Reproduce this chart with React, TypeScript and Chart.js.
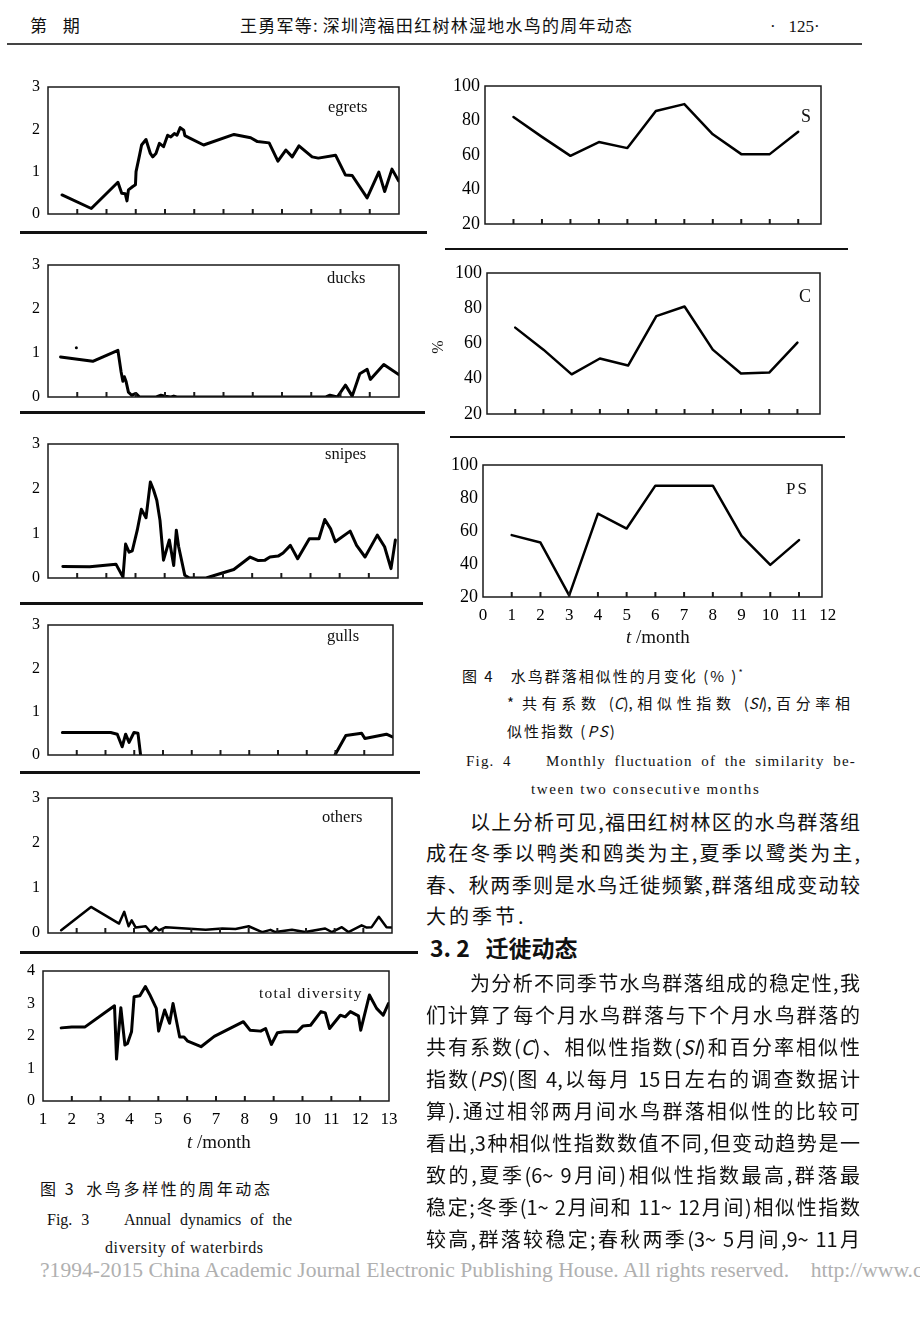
import React, { useEffect, useRef } from "react";
import { Chart, registerables } from "chart.js";
Chart.register(...registerables);

// ---------- data ----------
const egretsMonths = [1.48, 2.48, 3.39, 3.52, 3.64, 3.7, 3.75, 3.9, 3.99, 4.01, 4.13, 4.2, 4.35, 4.5, 4.58, 4.69, 4.81, 4.95, 5.09, 5.2, 5.32, 5.41, 5.52, 5.64, 5.68, 5.83, 6.32, 7.36, 7.93, 8.16, 8.56, 8.86, 9.13, 9.35, 9.58, 10.03, 10.24, 10.83, 11.17, 11.4, 11.91, 12.31, 12.51, 12.76, 12.99];
const egretsValues = [0.45, 0.13, 0.75, 0.49, 0.48, 0.31, 0.57, 0.65, 0.69, 1.0, 1.39, 1.63, 1.76, 1.43, 1.35, 1.43, 1.67, 1.59, 1.86, 1.82, 1.9, 1.86, 2.04, 1.98, 1.85, 1.8, 1.63, 1.88, 1.8, 1.71, 1.68, 1.25, 1.51, 1.35, 1.61, 1.35, 1.32, 1.39, 0.92, 0.91, 0.38, 0.99, 0.53, 1.06, 0.78];

const ducksMonths = [1.43, 2.53, 3.39, 3.5, 3.56, 3.61, 3.67, 3.75, 3.86, 4.01, 4.13, 4.7, 4.86, 5.0, 5.2, 5.3, 5.4, 10.5, 10.64, 10.89, 11.17, 11.4, 11.66, 11.91, 12.02, 12.48, 12.99];
const ducksValues = [0.91, 0.81, 1.06, 0.57, 0.36, 0.46, 0.35, 0.11, 0.04, 0.08, 0, 0, 0.04, 0.02, 0, 0.02, 0, 0, 0.04, 0, 0.27, 0.02, 0.53, 0.63, 0.4, 0.74, 0.51];
const ducksDotMonths = [1.97];
const ducksDotValues = [1.12];

const snipesMonths = [1.51, 2.43, 3.33, 3.57, 3.66, 3.78, 3.89, 4.06, 4.2, 4.36, 4.51, 4.62, 4.73, 4.84, 4.96, 5.16, 5.31, 5.4, 5.48, 5.69, 5.85, 6.42, 6.92, 7.37, 7.93, 8.21, 8.44, 8.61, 8.89, 9.06, 9.31, 9.56, 9.96, 10.29, 10.49, 10.69, 10.85, 11.36, 11.58, 11.87, 12.29, 12.54, 12.76, 12.91];
const snipesValues = [0.26, 0.25, 0.31, 0.02, 0.76, 0.58, 0.61, 1.07, 1.54, 1.35, 2.15, 1.97, 1.74, 1.29, 0.4, 0.85, 0.28, 1.07, 0.7, 0.06, 0, 0, 0.1, 0.19, 0.47, 0.39, 0.4, 0.47, 0.49, 0.56, 0.73, 0.43, 0.88, 0.88, 1.31, 1.1, 0.81, 1.05, 0.73, 0.47, 0.96, 0.7, 0.21, 0.85];

const gullsMonths = [1.5, 3.18, 3.41, 3.58, 3.7, 3.82, 3.99, 4.13, 4.22, 7.5, 10.98, 11.36, 11.91, 12.02, 12.77, 13.0];
const gullsValues = [0.52, 0.52, 0.48, 0.19, 0.48, 0.29, 0.52, 0.5, 0, null, 0, 0.45, 0.5, 0.38, 0.48, 0.41];

const othersMonths = [1.46, 2.5, 3.48, 3.66, 3.81, 3.92, 4.06, 4.41, 4.58, 4.76, 4.87, 5.11, 6.5, 7.08, 7.54, 8.0, 8.47, 8.76, 8.93, 9.51, 9.97, 10.67, 10.9, 11.25, 11.48, 11.94, 12.12, 12.29, 12.54, 12.81, 13.0];
const othersValues = [0.06, 0.58, 0.21, 0.47, 0.15, 0.28, 0.12, 0.15, 0.02, 0.13, 0.06, 0.13, 0.07, 0.1, 0.09, 0.15, 0.02, 0.07, 0.02, 0.07, 0.02, 0.1, 0.02, 0.13, 0.02, 0.17, 0.12, 0.13, 0.36, 0.13, 0.12];

const totalMonths = [1.63, 2.0, 2.46, 3.48, 3.55, 3.61, 3.7, 3.84, 3.93, 4.07, 4.16, 4.36, 4.55, 4.7, 4.93, 5.01, 5.22, 5.39, 5.51, 5.74, 5.89, 6.02, 6.48, 6.94, 7.95, 8.18, 8.55, 8.72, 8.92, 9.13, 9.36, 9.82, 10.02, 10.28, 10.64, 10.79, 10.94, 11.31, 11.48, 11.66, 11.94, 12.02, 12.32, 12.57, 12.8, 12.98];
const totalValues = [2.25, 2.28, 2.28, 2.93, 1.29, 1.97, 2.87, 1.72, 1.77, 2.13, 3.21, 3.24, 3.52, 3.28, 2.85, 2.15, 2.8, 2.39, 3.0, 1.97, 1.97, 1.84, 1.67, 1.99, 2.44, 2.18, 2.15, 2.23, 1.74, 2.1, 2.13, 2.13, 2.31, 2.33, 2.75, 2.71, 2.23, 2.64, 2.59, 2.75, 2.62, 2.18, 3.26, 2.85, 2.64, 3.0];

const simMonths = [1, 2, 3, 4, 5, 6, 7, 8, 9, 10, 11];
const simS = [82, 70.5, 59.5, 67.5, 64, 85.5, 89.5, 72, 60.5, 60.5, 73.5];
const simC = [69, 56.5, 42.5, 51.5, 47.5, 75.5, 81, 56.5, 43, 43.5, 60.5];
const simPS = [57.5, 53, 21, 70.5, 61.5, 87.5, 87.5, 87.5, 57, 39.5, 54.5];

const groupTicksY = [0, 1, 2, 3];
const totalTicksY = [0, 1, 2, 3, 4];
const simTicksY = [20, 40, 60, 80, 100];
const yearTicksX = [1, 2, 3, 4, 5, 6, 7, 8, 9, 10, 11, 12, 13];
const yearInnerTicks = [2, 3, 4, 5, 6, 7, 8, 9, 10, 11, 12];
const monthTicksX = [0, 1, 2, 3, 4, 5, 6, 7, 8, 9, 10, 11, 12];
const monthInnerTicks = [1, 2, 3, 4, 5, 6, 7, 8, 9, 10, 11];

// ---------- chart helpers ----------
const SERIF = "'Liberation Serif', 'DejaVu Serif', serif";
const CJK = "'Noto Sans CJK SC', sans-serif";

const frameTicksPlugin = {
  id: "frameTicks",
  afterDatasetsDraw(chart: any, _args: any, opts: any) {
    const { ctx, chartArea: a, scales } = chart;
    ctx.save();
    ctx.strokeStyle = "#1a1a1a";
    ctx.lineWidth = 1.5;
    ctx.strokeRect(a.left, a.top, a.right - a.left, a.bottom - a.top);
    ctx.lineWidth = 2;
    for (const v of opts.values || []) {
      const px = scales.x.getPixelForValue(v);
      ctx.beginPath();
      ctx.moveTo(px, a.bottom);
      ctx.lineTo(px, a.bottom - 5);
      ctx.stroke();
    }
    ctx.restore();
  },
};

function pts(xs: number[], ys: (number | null)[]) {
  return xs.map((x, i) => ({ x, y: ys[i] }));
}

function lineSet(xs: number[], ys: (number | null)[], width: number) {
  return {
    data: pts(xs, ys),
    borderColor: "#000",
    borderWidth: width,
    pointRadius: 0,
    tension: 0,
    fill: false,
    borderJoinStyle: "round",
    borderCapStyle: "round",
    spanGaps: false,
  };
}

type ChartProps = {
  box: [number, number, number, number];
  yw: number;
  padT: number;
  padR: number;
  xh: number;
  xMin: number;
  xMax: number;
  yMin: number;
  yMax: number;
  yTicks: number[];
  xTicks: number[] | null;
  inTicks: number[];
  datasets: any[];
  yPad: number;
  xPad: number;
  yFont: number;
  xFont: number;
};

function PanelChart(p: ChartProps) {
  const ref = useRef<HTMLCanvasElement>(null);
  const [x0, y0, x1, y1] = p.box;
  const left = x0 - p.yw;
  const top = y0 - p.padT;
  const width = x1 - x0 + p.yw + p.padR;
  const height = y1 - y0 + p.padT + p.xh;
  useEffect(() => {
    const chart = new Chart(ref.current as HTMLCanvasElement, {
      type: "line",
      data: { datasets: p.datasets },
      options: {
        responsive: false,
        maintainAspectRatio: false,
        animation: false,
        layout: { padding: { top: p.padT, right: p.padR, left: 0, bottom: 0 } },
        plugins: {
          legend: { display: false },
          tooltip: { enabled: false },
          frameTicks: { values: p.inTicks },
        } as any,
        scales: {
          x: {
            type: "linear",
            min: p.xMin,
            max: p.xMax,
            border: { display: false },
            grid: { display: false, drawTicks: false },
            ticks: {
              display: !!p.xTicks,
              padding: p.xPad,
              autoSkip: false,
              maxRotation: 0,
              color: "#000",
              font: { family: SERIF, size: p.xFont },
              callback: (v: any) => String(v),
            },
            afterBuildTicks: (s: any) => {
              if (p.xTicks) s.ticks = p.xTicks.map((v) => ({ value: v }));
            },
            afterFit: (s: any) => {
              s.height = p.xh;
            },
          },
          y: {
            type: "linear",
            min: p.yMin,
            max: p.yMax,
            border: { display: false },
            grid: { display: false, drawTicks: false },
            ticks: {
              padding: p.yPad,
              autoSkip: false,
              color: "#000",
              font: { family: SERIF, size: p.yFont },
            },
            afterBuildTicks: (s: any) => {
              s.ticks = p.yTicks.map((v) => ({ value: v }));
            },
            afterFit: (s: any) => {
              s.width = p.yw;
            },
          },
        },
      } as any,
      plugins: [frameTicksPlugin],
    });
    return () => chart.destroy();
  }, []);
  return (
    <canvas
      ref={ref}
      width={width}
      height={height}
      style={{ position: "absolute", left, top, width, height }}
    />
  );
}

function groupPanel(box: [number, number, number, number], datasets: any[]) {
  return (
    <PanelChart
      box={box}
      yw={box[0]}
      padT={22}
      padR={10}
      xh={22}
      xMin={1}
      xMax={13}
      yMin={0}
      yMax={3}
      yTicks={groupTicksY}
      xTicks={null}
      inTicks={yearInnerTicks}
      datasets={datasets}
      yPad={8}
      xPad={8}
      yFont={16}
      xFont={16}
    />
  );
}

function simPanel(box: [number, number, number, number], datasets: any[], withX: boolean) {
  return (
    <PanelChart
      box={box}
      yw={52}
      padT={22}
      padR={withX ? 34 : 10}
      xh={withX ? 30 : 22}
      xMin={0}
      xMax={11.8}
      yMin={20}
      yMax={100}
      yTicks={simTicksY}
      xTicks={withX ? monthTicksX : null}
      inTicks={monthInnerTicks}
      datasets={datasets}
      yPad={5}
      xPad={8}
      yFont={18}
      xFont={17}
    />
  );
}

// ---------- text helpers ----------
function T(props: {
  x: number;
  cy: number;
  size: number;
  w?: number;
  family?: string;
  justify?: boolean;
  ls?: number;
  weight?: number | string;
  color?: string;
  children: any;
}) {
  const { x, cy, size, w, family, justify, ls, weight, color, children } = props;
  return (
    <div
      style={{
        position: "absolute",
        left: x,
        top: cy - size * 0.65,
        width: w,
        fontSize: size,
        lineHeight: `${size * 1.3}px`,
        fontFamily: family || CJK,
        textAlign: justify ? "justify" : "left",
        textAlignLast: justify ? "justify" : "auto",
        letterSpacing: ls || 0,
        whiteSpace: justify ? "normal" : "nowrap",
        fontWeight: weight || 400,
        color: color || "#111",
      } as any}
    >
      {children}
    </div>
  );
}

function Rule(props: { x: number; y: number; w: number; h: number; c?: string }) {
  return (
    <div
      style={{
        position: "absolute",
        left: props.x,
        top: props.y,
        width: props.w,
        height: props.h,
        background: props.c || "#111",
      }}
    />
  );
}

function Label(props: { x: number; cy: number; size: number; text: string; ls?: number }) {
  return (
    <T x={props.x} cy={props.cy} size={props.size} family={SERIF} ls={props.ls}>
      {props.text}
    </T>
  );
}

export default function App() {
  return (
    <div
      style={{
        position: "absolute",
        left: 0,
        top: 0,
        width: 920,
        height: 1319,
        overflow: "hidden",
        background: "#fff",
      }}
    >
      {/* header */}
      <T x={30} cy={25} size={17} ls={6}>第 期</T>
      <T x={240} cy={25} size={17} w={392} justify>王勇军等: 深圳湾福田红树林湿地水鸟的周年动态</T>
      <T x={770} cy={27} size={17} family={SERIF}>·&nbsp;&nbsp;&nbsp;125·</T>
      <Rule x={7} y={43} w={855} h={2} c="#444" />

      {/* left column: annual dynamics */}
      {groupPanel([48, 87, 399, 214], [lineSet(egretsMonths, egretsValues, 3)])}
      <Label x={328} cy={107} size={16.5} text="egrets" />
      <Rule x={20} y={231} w={407} h={3} />

      {groupPanel([48, 265, 399, 397], [
        lineSet(ducksMonths, ducksValues, 3),
        {
          data: pts(ducksDotMonths, ducksDotValues),
          showLine: false,
          pointRadius: 1.5,
          pointBackgroundColor: "#000",
          pointBorderWidth: 0,
        },
      ])}
      <Label x={327} cy={278} size={16.5} text="ducks" />
      <Rule x={20} y={411} w={405} h={3} />

      {groupPanel([48, 444, 398, 578], [lineSet(snipesMonths, snipesValues, 3)])}
      <Label x={325} cy={454} size={16.5} text="snipes" />
      <Rule x={20} y={602} w={403} h={3} />

      {groupPanel([48, 625, 393, 755], [lineSet(gullsMonths, gullsValues, 3)])}
      <Label x={327} cy={636} size={16.5} text="gulls" />
      <Rule x={20} y={771} w={400} h={3} />

      {groupPanel([48, 798, 392, 933], [lineSet(othersMonths, othersValues, 2.5)])}
      <Label x={322} cy={817} size={16.5} text="others" />
      <Rule x={20} y={951} w={398} h={3} />

      <PanelChart
        box={[43, 971, 389, 1101]}
        yw={43}
        padT={22}
        padR={30}
        xh={30}
        xMin={1}
        xMax={13}
        yMin={0}
        yMax={4}
        yTicks={totalTicksY}
        xTicks={yearTicksX}
        inTicks={yearInnerTicks}
        datasets={[lineSet(totalMonths, totalValues, 3)]}
        yPad={8}
        xPad={8}
        yFont={16}
        xFont={17}
      />
      <Label x={259} cy={993} size={15.5} ls={1.2} text="total diversity" />
      <div style={{ position: "absolute", left: 187, top: 1131, fontFamily: SERIF, fontSize: 19, lineHeight: "22px", whiteSpace: "nowrap", color: "#111" }}>
        <i>t</i> /month
      </div>

      {/* left captions */}
      <T x={40} cy={1188} size={16} w={230} justify>图 3&nbsp; 水鸟多样性的周年动态</T>
      <T x={47} cy={1220} size={16} w={245} family={SERIF} justify>Fig. 3&nbsp;&nbsp;&nbsp; Annual dynamics of the</T>
      <T x={105} cy={1248} size={16} family={SERIF} ls={0.6}>diversity of waterbirds</T>

      {/* right column: similarity */}
      {simPanel([485, 86, 821, 224], [lineSet(simMonths, simS, 2.5)], false)}
      <Label x={801} cy={117} size={18} text="S" />
      <Rule x={445} y={248} w={403} h={2} />

      {simPanel([487, 273, 820, 414], [lineSet(simMonths, simC, 2.5)], false)}
      <Label x={799} cy={297} size={18} text="C" />
      <div style={{ position: "absolute", left: 429, top: 338, width: 18, height: 18, fontFamily: SERIF, fontSize: 16, lineHeight: "18px", textAlign: "center", transform: "rotate(-90deg)", color: "#111" }}>%</div>
      <Rule x={450} y={436} w={395} h={2} />

      {simPanel([483, 465, 822, 597], [lineSet(simMonths, simPS, 2.5)], true)}
      <Label x={786} cy={489} size={17} ls={2} text="PS" />
      <div style={{ position: "absolute", left: 626, top: 626, fontFamily: SERIF, fontSize: 19, lineHeight: "22px", whiteSpace: "nowrap", color: "#111" }}>
        <i>t</i> /month
      </div>

      {/* right captions */}
      <T x={462} cy={673} size={15} ls={2}>图 4&nbsp;&nbsp; 水鸟群落相似性的月变化 (% )<sup style={{ fontSize: 9 }}>*</sup></T>
      <T x={507} cy={703} size={15} w={343} justify>* 共有系数 (<i>C</i>),相似性指数 (<i>SI</i>),百分率相</T>
      <T x={507} cy={731} size={15} ls={2}>似性指数 (<i>PS</i>)</T>
      <T x={466} cy={762} size={15} w={390} family={SERIF} ls={1.2} justify>Fig. 4&nbsp;&nbsp;&nbsp; Monthly fluctuation of the similarity be-</T>
      <T x={531} cy={790} size={15} family={SERIF} ls={1.6}>tween two consecutive months</T>

      {/* body text */}
      <T x={470} cy={822} size={20} w={390} justify>以上分析可见,福田红树林区的水鸟群落组</T>
      <T x={426} cy={853} size={20} w={434} justify>成在冬季以鸭类和鸥类为主,夏季以鹭类为主,</T>
      <T x={426} cy={885} size={20} w={434} justify>春、秋两季则是水鸟迁徙频繁,群落组成变动较</T>
      <T x={426} cy={916} size={20} ls={3}>大的季节.</T>
      <T x={430} cy={948} size={23} weight={700}>3. 2&nbsp;&nbsp; 迁徙动态</T>
      <T x={470} cy={983} size={20} w={390} justify>为分析不同季节水鸟群落组成的稳定性,我</T>
      <T x={426} cy={1015} size={20} w={434} justify>们计算了每个月水鸟群落与下个月水鸟群落的</T>
      <T x={426} cy={1047} size={20} w={434} justify>共有系数(<i>C</i>)、相似性指数(<i>SI</i>)和百分率相似性</T>
      <T x={426} cy={1079} size={20} w={434} justify>指数(<i>PS</i>)(图 4,以每月 15日左右的调查数据计</T>
      <T x={426} cy={1111} size={20} w={434} justify>算).通过相邻两月间水鸟群落相似性的比较可</T>
      <T x={426} cy={1143} size={20} w={434} justify>看出,3种相似性指数数值不同,但变动趋势是一</T>
      <T x={426} cy={1175} size={20} w={434} justify>致的,夏季(6~ 9月间)相似性指数最高,群落最</T>
      <T x={426} cy={1207} size={20} w={434} justify>稳定;冬季(1~ 2月间和 11~ 12月间)相似性指数</T>
      <T x={426} cy={1239} size={20} w={434} justify>较高,群落较稳定;春秋两季(3~ 5月间,9~ 11月</T>

      {/* footer */}
      <T x={40} cy={1270} size={21.6} family={SERIF} color="#b0b0b0">
        ?1994-2015 China Academic Journal Electronic Publishing House. All rights reserved.&nbsp;&nbsp;&nbsp;&nbsp;http://www.cnki.net
      </T>
    </div>
  );
}
